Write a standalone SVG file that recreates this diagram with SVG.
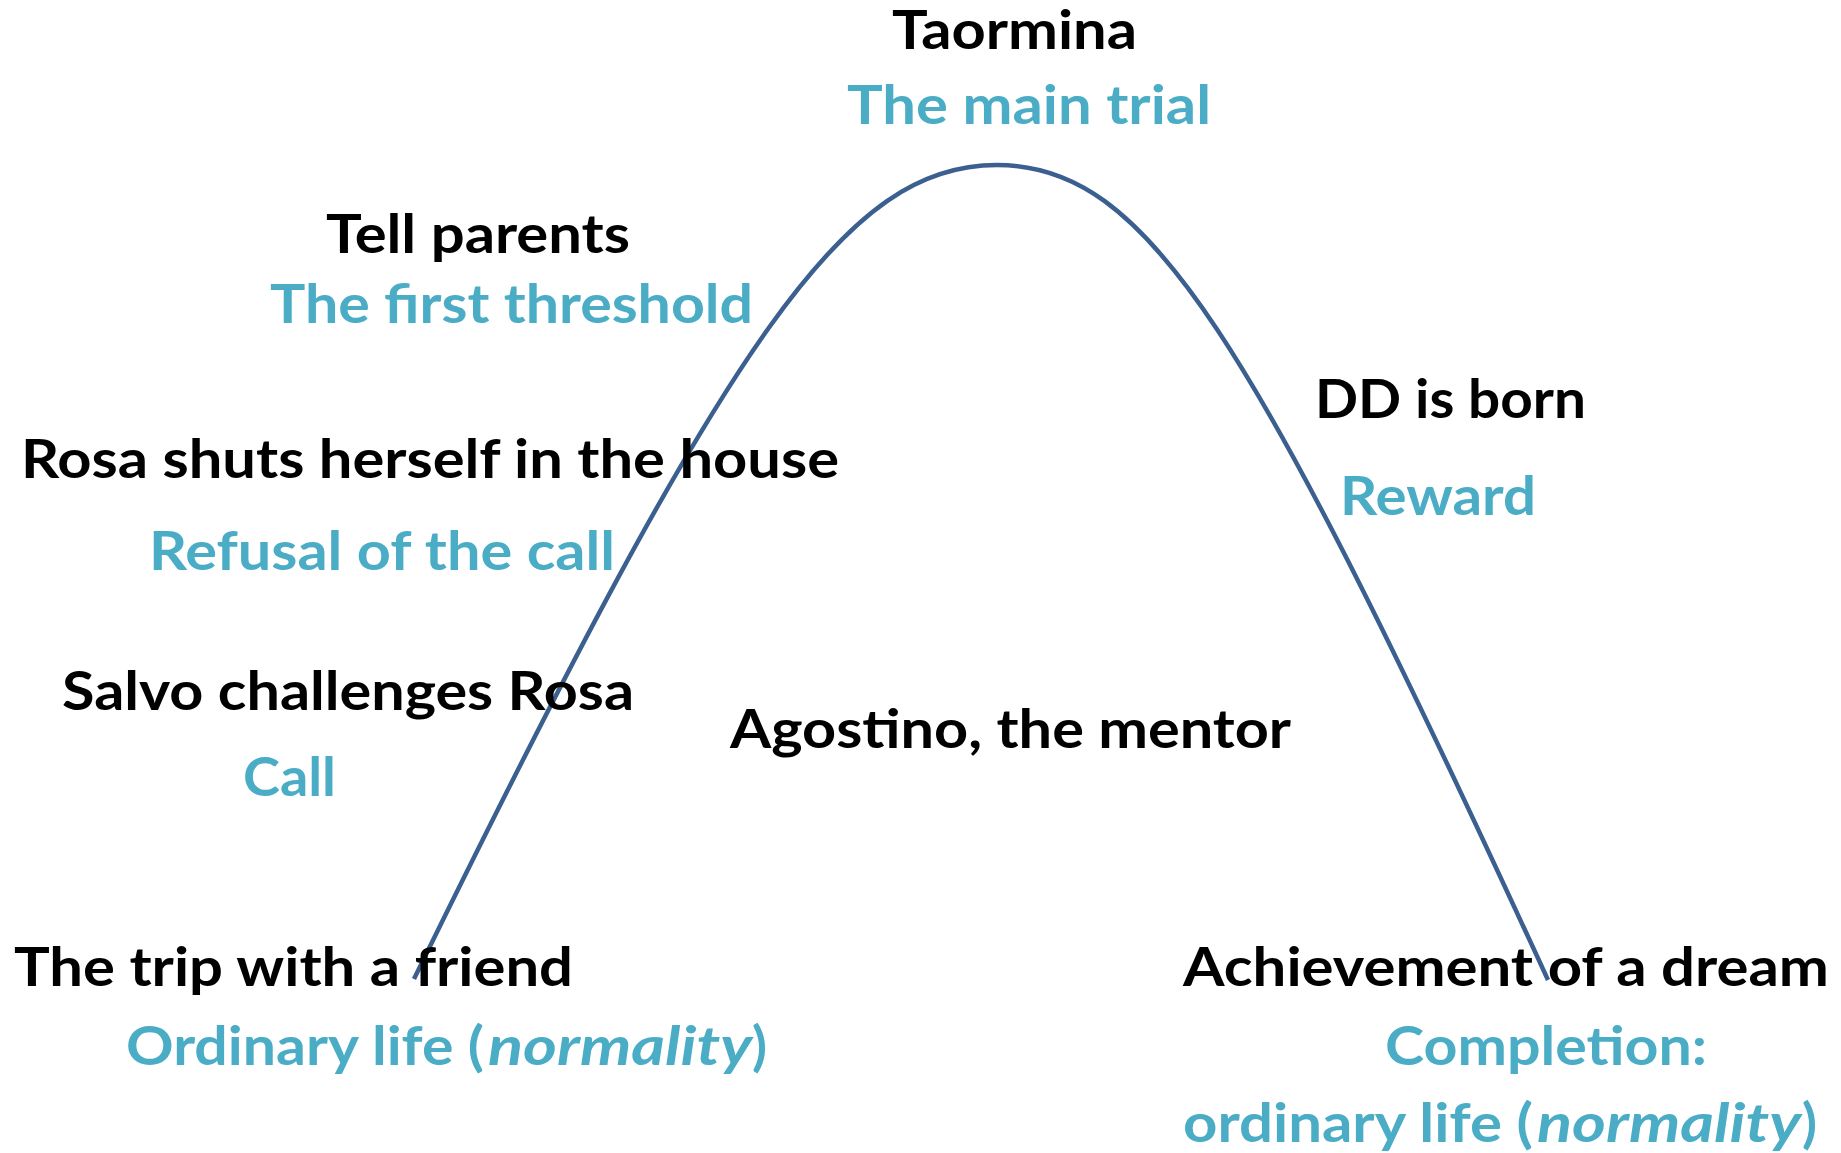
<svg xmlns="http://www.w3.org/2000/svg" width="1841" height="1153" viewBox="0 0 1841 1153">
<style>
text { font-family: Lato, "Open Sans", "Liberation Sans", sans-serif; font-weight: bold; font-size: 54px; }
.k { fill: #000000; }
.b { fill: #4BACC6; }
.i { font-style: italic; }
.arc { fill: none; stroke: #3B6090; stroke-width: 4.5; stroke-linecap: butt; }
</style>
<rect width="1841" height="1153" fill="#ffffff"/>
<g id="connectors">
<path class="arc" d="M414,979 C732,329 847,165 997,165 C1147,165 1249,330 1548,980"/>
</g>
<g id="taormina">
<text class="k" x="892" y="49" textLength="245" lengthAdjust="spacingAndGlyphs">Taormina</text>
<text class="b" x="847" y="124" textLength="364" lengthAdjust="spacingAndGlyphs">The main trial</text>
</g>
<g id="tell-parents">
<text class="k" x="326" y="253" textLength="304" lengthAdjust="spacingAndGlyphs">Tell parents</text>
<text class="b" x="270" y="323" textLength="483" lengthAdjust="spacingAndGlyphs">The first threshold</text>
</g>
<g id="rosa-shuts">
<text class="k" x="21" y="478" textLength="818" lengthAdjust="spacingAndGlyphs">Rosa shuts herself in the house</text>
<text class="b" x="149" y="570" textLength="466" lengthAdjust="spacingAndGlyphs">Refusal of the call</text>
</g>
<g id="dd-born">
<text class="k" x="1315" y="418" textLength="271" lengthAdjust="spacingAndGlyphs">DD is born</text>
<text class="b" x="1340" y="515" textLength="196" lengthAdjust="spacingAndGlyphs">Reward</text>
</g>
<g id="salvo">
<text class="k" x="62" y="710" textLength="572" lengthAdjust="spacingAndGlyphs">Salvo challenges Rosa</text>
<text class="b" x="243" y="796" textLength="93" lengthAdjust="spacingAndGlyphs">Call</text>
</g>
<g id="agostino">
<text class="k" x="730" y="748" textLength="561" lengthAdjust="spacingAndGlyphs">Agostino, the mentor</text>
</g>
<g id="trip">
<text class="k" x="14" y="986" textLength="559" lengthAdjust="spacingAndGlyphs">The trip with a friend</text>
<text class="b" x="126" y="1065" textLength="358" lengthAdjust="spacingAndGlyphs">Ordinary life (</text>
<text class="b i" x="488" y="1065" textLength="264" lengthAdjust="spacingAndGlyphs">normality</text>
<text class="b" x="752" y="1065" textLength="15" lengthAdjust="spacingAndGlyphs">)</text>
</g>
<g id="achievement">
<text class="k" x="1183" y="986" textLength="646" lengthAdjust="spacingAndGlyphs">Achievement of a dream</text>
<text class="b" x="1385" y="1065" textLength="322" lengthAdjust="spacingAndGlyphs">Completion:</text>
<text class="b" x="1183" y="1142" textLength="350" lengthAdjust="spacingAndGlyphs">ordinary life (</text>
<text class="b i" x="1537" y="1142" textLength="264" lengthAdjust="spacingAndGlyphs">normality</text>
<text class="b" x="1802" y="1142" textLength="15" lengthAdjust="spacingAndGlyphs">)</text>
</g>
</svg>
